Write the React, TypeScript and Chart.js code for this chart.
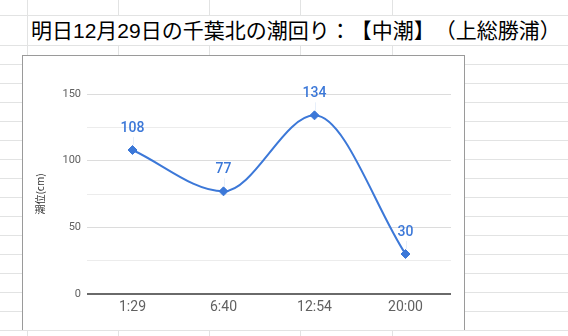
import React, { useEffect, useRef } from 'react';
import { Chart, registerables } from 'chart.js';

Chart.register(...registerables);

const titleText = '明日12月29日の千葉北の潮回り：【中潮】（上総勝浦）';
const yAxisTitle = '潮位(cm)';
const categories = ['1:29', '6:40', '12:54', '20:00'];
const tideLevels = [108, 77, 134, 30];
const yTickLabels = [0, 50, 100, 150];

const BLUE = '#3c78d8';
const SHEET_LINE = '#e2e3e3';

// spreadsheet background grid (layout only)
const rowLines: number[] = [15, 45];
for (let y = 64; y <= 330; y += 19) rowLines.push(y);
const colLines = [27, 118, 209, 300, 392];

const dataLabelPlugin = {
  id: 'dataLabels',
  afterDatasetsDraw(chart: any) {
    const ctx = chart.ctx;
    const meta = chart.getDatasetMeta(0);
    const data = chart.data.datasets[0].data as number[];
    ctx.save();
    meta.data.forEach((pt: any, i: number) => {
      const x = pt.x;
      const y = pt.y;
      ctx.strokeStyle = 'rgba(60,120,216,0.12)';
      ctx.lineWidth = 1;
      ctx.beginPath();
      ctx.moveTo(Math.round(x) + 0.5, y - 13);
      ctx.lineTo(Math.round(x) + 0.5, y - 5);
      ctx.stroke();
      ctx.fillStyle = BLUE;
      ctx.font = '500 14px Roboto';
      ctx.textAlign = 'center';
      ctx.textBaseline = 'middle';
      ctx.fillText(String(data[i]), x, y - 21.5);
    });
    ctx.restore();
  },
};

function TideChart() {
  const ref = useRef<HTMLCanvasElement | null>(null);
  useEffect(() => {
    if (!ref.current) return;
    const chart = new Chart(ref.current, {
      type: 'line',
      data: {
        labels: categories,
        datasets: [
          {
            data: tideLevels,
            borderColor: BLUE,
            backgroundColor: BLUE,
            borderWidth: 2,
            pointStyle: 'rectRot',
            pointRadius: 4.5,
            pointBorderWidth: 1,
            pointBackgroundColor: BLUE,
            pointBorderColor: BLUE,
            cubicInterpolationMode: 'monotone',
            clip: false as any,
          },
        ],
      },
      options: {
        animation: false,
        responsive: false,
        devicePixelRatio: 1,
        layout: { padding: { top: 38, right: 12, left: 0, bottom: 0 } },
        plugins: {
          legend: { display: false },
          tooltip: { enabled: false },
          title: { display: false },
        },
        scales: {
          x: {
            offset: true,
            grid: { display: false, drawTicks: false },
            border: { display: false },
            ticks: {
              color: '#616161',
              font: { family: 'Roboto', size: 14 },
              padding: 5,
              maxRotation: 0,
            },
            afterFit(scale: any) {
              scale.height = 35;
            },
          },
          y: {
            min: 0,
            max: 150,
            afterBuildTicks(scale: any) {
              const t: any[] = [];
              for (let v = 0; v <= 150; v += 25) t.push({ value: v });
              scale.ticks = t;
            },
            grid: {
              drawTicks: false,
              color: (c: any) =>
                c.tick && c.tick.value === 0
                  ? '#6a6a6a'
                  : yTickLabels.includes(c.tick?.value)
                  ? '#dcdcdc'
                  : '#ececec',
              lineWidth: (c: any) => (c.tick && c.tick.value === 0 ? 2 : 1),
            },
            border: { display: false },
            ticks: {
              color: '#616161',
              font: { family: 'Roboto', size: 11 },
              padding: 6,
              callback: (v: any) => (yTickLabels.includes(Number(v)) ? String(v) : ''),
            },
            title: {
              display: true,
              text: yAxisTitle,
              color: '#333333',
              font: { family: 'Noto Sans CJK JP', size: 10 },
              padding: { top: 11, bottom: 0 },
            },
            afterFit(scale: any) {
              scale.width = 64;
            },
          },
        },
      },
      plugins: [dataLabelPlugin],
    });
    return () => chart.destroy();
  }, []);
  return (
    <canvas
      ref={ref}
      width={440}
      height={273}
      style={{ position: 'absolute', left: 23, top: 56, width: 440, height: 273 }}
    />
  );
}

export default function App() {
  return (
    <div
      style={{
        position: 'absolute',
        left: 0,
        top: 0,
        width: 568,
        height: 336,
        overflow: 'hidden',
        background: '#ffffff',
      }}
    >
      {rowLines.map((y) => (
        <div
          key={'r' + y}
          style={{ position: 'absolute', left: 0, top: y, width: 568, height: 1, background: SHEET_LINE }}
        />
      ))}
      {colLines.map((x) => (
        <React.Fragment key={'c' + x}>
          <div style={{ position: 'absolute', left: x, top: 0, width: 1, height: x === 27 ? 55 : 15, background: SHEET_LINE }} />
          <div style={{ position: 'absolute', left: x, top: 45, width: 1, height: 10, background: SHEET_LINE }} />
          <div style={{ position: 'absolute', left: x, top: 330, width: 1, height: 6, background: SHEET_LINE }} />
        </React.Fragment>
      ))}
      <div
        style={
          {
            position: 'absolute',
            left: 31,
            top: 16,
            height: 29,
            lineHeight: '29px',
            fontFamily: '"Liberation Sans", "Noto Sans CJK JP", sans-serif',
            fontSize: 21,
            color: '#000',
            whiteSpace: 'nowrap',
            textSpacingTrim: 'space-all',
            fontFeatureSettings: '"halt" 0, "palt" 0',
          } as any
        }
      >
        {titleText}
      </div>
      <div
        style={{
          position: 'absolute',
          left: 22,
          top: 55,
          width: 441,
          height: 274,
          borderLeft: '1px solid #9a9a9a',
          borderTop: '1px solid #9a9a9a',
          borderRight: '1px solid #9a9a9a',
          background: '#fff',
        }}
      />
      <TideChart />
    </div>
  );
}
